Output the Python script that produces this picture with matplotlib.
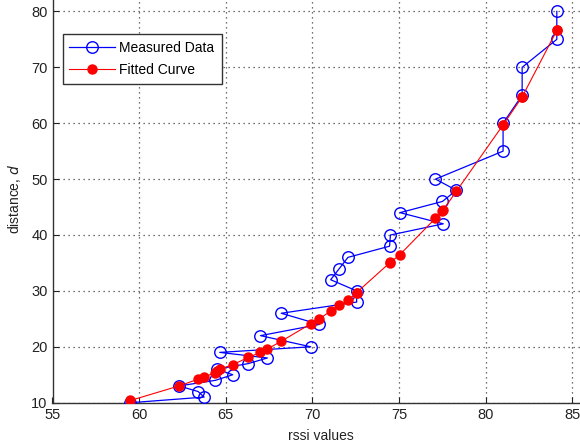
import matplotlib
matplotlib.use("Agg")
import matplotlib.pyplot as plt

# Measured data (rssi, distance)
meas_rssi = [59.5, 63.75, 63.4, 62.3, 64.4, 65.4, 64.5, 66.3, 67.4, 64.65,
             69.9, 67.0, 70.4, 68.2, 72.55, 72.55, 71.05, 71.55, 72.05, 74.45,
             74.5, 77.55, 75.05, 77.5, 78.3, 77.1, 81.0, 81.0, 82.1, 82.1,
             84.1, 84.1]
meas_dist = [10, 11, 12, 13, 14, 15, 16, 17, 18, 19,
             20, 22, 24, 26, 28, 30, 32, 34, 36, 38,
             40, 42, 44, 46, 48, 50, 55, 60, 65, 70,
             75, 80]

# Fitted curve (sorted by rssi)
fit_rssi = [59.5, 62.3, 63.4, 63.75, 64.4, 64.5, 64.65, 65.4, 66.3, 67.0,
            67.4, 68.2, 69.9, 70.4, 71.05, 71.55, 72.05, 72.55, 72.55, 74.45,
            74.5, 75.05, 77.1, 77.5, 77.55, 78.3, 81.0, 81.0, 82.1, 82.1,
            84.1, 84.1]
fit_dist = [10.4, 13.0, 14.2, 14.6, 15.4, 15.6, 16.0, 16.8, 18.1, 19.0,
            19.6, 21.0, 24.1, 25.0, 26.4, 27.4, 28.3, 29.6, 29.7, 35.0,
            35.1, 36.5, 43.0, 44.3, 44.5, 47.8, 59.7, 59.7, 64.7, 64.7,
            76.6, 76.6]

x_ticks = [55, 60, 65, 70, 75, 80, 85]
y_ticks = [10, 20, 30, 40, 50, 60, 70, 80]

plt.rcParams['font.family'] = ['Liberation Sans', 'DejaVu Sans']

W, H = 580, 445
fig = plt.figure(figsize=(W / 100, H / 100), dpi=100)
px_per_x = 17.33
px_per_y = 5.59
xlim = (55, 86)
ylim = (10, 83)
left_px = 52.5
bottom_px = 402.7
w_px = (xlim[1] - xlim[0]) * px_per_x
h_px = (ylim[1] - ylim[0]) * px_per_y
ax = fig.add_axes([left_px / W, (H - bottom_px) / H, w_px / W, h_px / H])

ax.plot(meas_rssi, meas_dist, color='#0000ff', lw=0.9, marker='o',
        markersize=8.3, markerfacecolor='none', markeredgecolor='#0000ff',
        markeredgewidth=1.0, label='Measured Data', zorder=3)
ax.plot(fit_rssi, fit_dist, color='#ff0000', lw=0.8, marker='o',
        markersize=6.5, markerfacecolor='#ff0000', markeredgecolor='#ff0000',
        label='Fitted Curve', zorder=4)

ax.set_xlim(*xlim)
ax.set_ylim(*ylim)
ax.set_xticks(x_ticks)
ax.set_yticks(y_ticks)
ax.tick_params(direction='in', length=4, labelsize=10.5, colors='#222222',
               top=False, right=False)
ax.grid(True, color='#444444', linestyle=(0, (1, 3)), linewidth=0.9)
ax.set_axisbelow(True)
for s in ['top', 'right']:
    ax.spines[s].set_visible(False)
for s in ['left', 'bottom']:
    ax.spines[s].set_color('#333333')
    ax.spines[s].set_linewidth(1.0)

ax.set_xlabel('rssi values', fontsize=10, color='#222222', labelpad=5)
ax.set_ylabel('distance, $d$', fontsize=10, color='#222222', labelpad=6)

leg = ax.legend(loc='upper left',
                bbox_to_anchor=((62.5 - left_px) / w_px, 1 - (34 - (bottom_px - h_px)) / h_px),
                fontsize=10, fancybox=False, framealpha=1, edgecolor='#333333',
                handlelength=3.3, borderpad=0.5, labelspacing=0.6, handletextpad=0.3,
                borderaxespad=0)
leg.get_frame().set_linewidth(1.0)

fig.savefig('out.png', dpi=100)
